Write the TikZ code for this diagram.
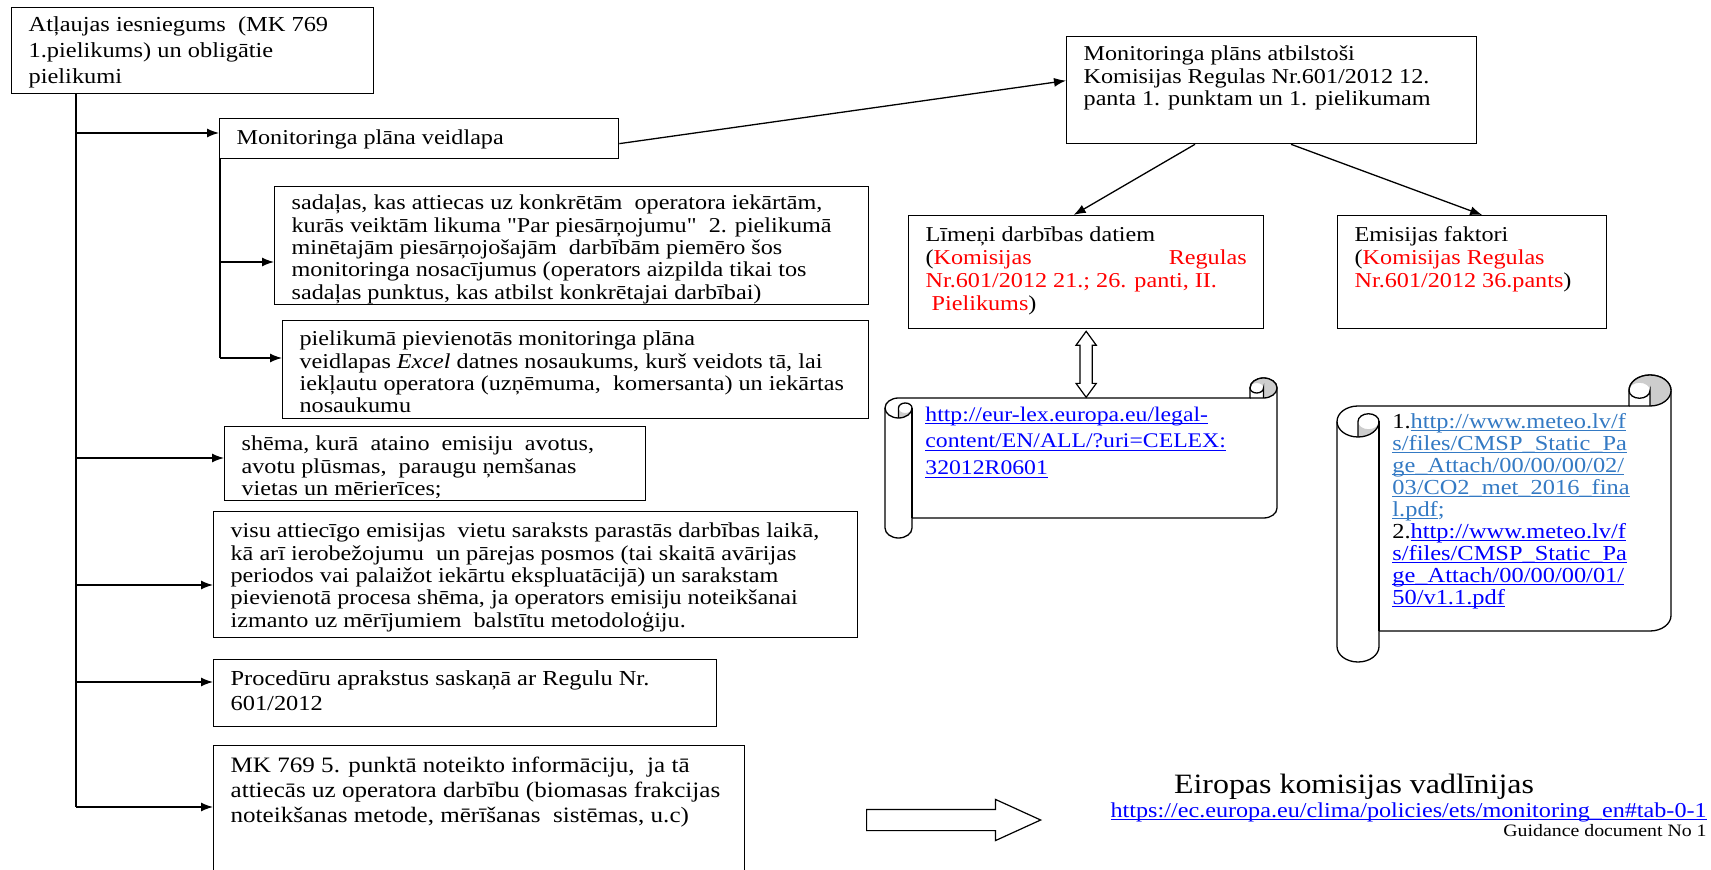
\documentclass[tikz,border=0pt]{standalone}
\usepackage{fontspec}
\setmainfont{Liberation Serif}[FakeStretch=1.14, Ligatures=TeXOff]
\usepackage{tikz}
\usetikzlibrary{arrows.meta,shapes.arrows}
\definecolor{linkblue}{RGB}{0,0,255}
\definecolor{linkpale}{RGB}{52,122,196}
\definecolor{rollgray}{RGB}{205,205,205}
\newcommand{\tline}[1]{\hbox to\linewidth{\strut#1\hfil}}
\newcommand{\jline}[1]{\hbox to\linewidth{\strut#1}}
\newcommand{\lnk}[1]{\setbox0\hbox{#1}\rlap{\rule[-1.45pt]{\wd0}{0.55pt}}\box0}
\newcommand{\boxtext}[3]{\vtop to #2{\hsize=#1\linewidth=#1\relax#3\vss}}
\newcommand{\hscroll}[6]{%
    \pgfmathsetmacro\scA{#5/2}\pgfmathsetmacro\scB{#6/2}%
    \pgfmathsetmacro\scC{#5/4}\pgfmathsetmacro\scD{#6/4}%
    \pgfmathsetmacro\scXa{#1+#5/2}\pgfmathsetmacro\scXb{#1+#5}%
    \pgfmathsetmacro\scXc{#3-#5}\pgfmathsetmacro\scXd{#3-#5/2}%
    \pgfmathsetmacro\scYa{#2+#6/2}\pgfmathsetmacro\scYb{#2+#6}%
    \pgfmathsetmacro\scYc{#2+1.5*#6}\pgfmathsetmacro\scYd{#2+2*#6}%
    \pgfmathsetmacro\scYe{#4-1.5*#6}\pgfmathsetmacro\scYf{#4-#6}%
    \pgfmathsetmacro\scYg{#4-#6/2}%
    \filldraw[scroll-line, fill=white] (#1,\scYc) arc[start angle=180, delta angle=90, x radius=\scA, y radius=\scB]
        -- (\scXc,\scYb) -- (\scXc,\scYa) arc[start angle=180, delta angle=180, x radius=\scA, y radius=\scB]
        -- (#3,\scYe) arc[start angle=0, delta angle=90, x radius=\scA, y radius=\scB]
        -- (\scXb,\scYf) -- (\scXb,\scYg) arc[start angle=0, delta angle=180, x radius=\scA, y radius=\scB]
        -- cycle;
    \fill[rollgray] (\scXa,\scYd) arc[start angle=90, delta angle=-90, x radius=\scA, y radius=\scB]
        arc[start angle=0, delta angle=180, x radius=\scC, y radius=\scD] -- cycle;
    \fill[rollgray] (\scXd,\scYb) arc[start angle=90, delta angle=-270, x radius=\scA, y radius=\scB]
        arc[start angle=180, delta angle=180, x radius=\scC, y radius=\scD] -- cycle;
    \draw[scroll-line] (\scXc,\scYa) arc[start angle=180, delta angle=180, x radius=\scA, y radius=\scB];
    \draw[scroll-line] (\scXc,\scYb) -- (\scXd,\scYb) arc[start angle=90, delta angle=-90, x radius=\scA, y radius=\scB];
    \draw[scroll-line] (\scXd,\scYb) -- (\scXd,\scYa) arc[start angle=0, delta angle=180, x radius=\scC, y radius=\scD];
    \draw[scroll-line] (\scXa,\scYd) -- (\scXa,\scYc) arc[start angle=180, delta angle=180, x radius=\scC, y radius=\scD]
        arc[start angle=0, delta angle=180, x radius=\scA, y radius=\scB];
    \draw[scroll-line] (\scXb,\scYc) -- (\scXb,\scYf);
}
\tikzset{
    plain-box/.style = {draw, line width=0.65pt, rectangle, anchor=north west, inner xsep=8.5pt, inner ysep=4.2pt, font=\fontsize{10.6}{11.2}\selectfont},
    flow-line/.style = {line width=0.65pt},
    flow-arrow/.style = {flow-line, -{Latex[length=6pt,width=4.5pt]}},
    scroll-line/.style = {line width=0.65pt},
    free-text/.style = {inner sep=0pt, anchor=north west},
}

\begin{document}
\begin{tikzpicture}[x=0.5pt, y=-0.5pt]
\useasboundingbox (0,0) rectangle (1711,870);

\node[plain-box, inner ysep=2.9pt, font=\fontsize{10.7}{13}\selectfont] (permit) at (11,7) {\boxtext{164pt}{37.2pt}{
    \tline{Atļaujas iesniegums\ \ (MK 769}
    \tline{1.pielikums) un obligātie}
    \tline{pielikumi}}};
\node[plain-box, inner ysep=5.2pt] (form) at (219,118) {\boxtext{182.5pt}{9.6pt}{
    \tline{Monitoringa plāna veidlapa}}};
\node[plain-box, inner ysep=3.7pt] (sections) at (274,186) {\boxtext{280pt}{51.6pt}{
    \tline{sadaļas, kas attiecas uz konkrētām\ \ operatora\ iekārtām,}
    \tline{kurās veiktām likuma "Par piesārņojumu"\ \ 2. pielikumā}
    \tline{minētajām piesārņojošajām\ \ darbībām piemēro šos}
    \tline{monitoringa nosacījumus (operators aizpilda tikai tos}
    \tline{sadaļas punktus, kas atbilst konkrētajai darbībai)}}};
\node[plain-box, inner ysep=4.7pt] (excelname) at (282,320) {\boxtext{276pt}{39.6pt}{
    \tline{pielikumā pievienotās monitoringa plāna}
    \tline{veidlapas \textit{Excel} datnes nosaukums, kurš veidots tā, lai}
    \tline{iekļautu operatora (uzņēmuma,\ \ komersanta) un iekārtas}
    \tline{nosaukumu}}};
\node[plain-box] (scheme) at (224,426) {\boxtext{193.5pt}{28.6pt}{
    \tline{shēma, kurā\ \ ataino\ \ emisiju\ \ avotus,}
    \tline{avotu plūsmas,\ \ paraugu ņemšanas}
    \tline{vietas un mērierīces;}}};
\node[plain-box, inner ysep=5.2pt] (sources) at (213,511) {\boxtext{305pt}{52.6pt}{
    \tline{visu attiecīgo emisijas\ \ vietu saraksts parastās darbības laikā,}
    \tline{kā arī ierobežojumu\ \ un pārejas posmos (tai skaitā avārijas}
    \tline{periodos vai palaižot iekārtu ekspluatācijā) un sarakstam}
    \tline{pievienotā procesa shēma, ja operators emisiju noteikšanai}
    \tline{izmanto uz mērījumiem\ \ balstītu metodoloģiju.}}};
\node[plain-box, inner ysep=4.25pt, font=\fontsize{10.7}{12.5}\selectfont] (procedures) at (213,659) {\boxtext{234.5pt}{25pt}{
    \tline{Procedūru aprakstus saskaņā ar Regulu Nr.}
    \tline{601/2012}}};
\node[plain-box, inner ysep=4.75pt, font=\fontsize{11}{12.5}\selectfont] (mkinfo) at (213,745) {\boxtext{248.5pt}{58pt}{
    \tline{MK 769 5. punktā noteikto informāciju,\ \ ja tā}
    \tline{attiecās uz operatora darbību (biomasas frakcijas}
    \tline{noteikšanas metode, mērīšanas\ \ sistēmas, u.c)}}};

\node[plain-box] (plan) at (1066,36) {\boxtext{188pt}{45.1pt}{
    \tline{Monitoringa plāns atbilstoši}
    \tline{Komisijas Regulas Nr.601/2012 12.}
    \tline{panta 1. punktam un 1. pielikumam}}};
\node[plain-box, inner ysep=4.95pt, font=\fontsize{10.6}{11.5}\selectfont] (tiers) at (908,215) {\boxtext{160.5pt}{46.6pt}{
    \tline{Līmeņi darbības datiem}
    \jline{({\color{red}Komisijas} {\color{red}Regulas}}
    \tline{\color{red}Nr.601/2012 21.; 26. panti, II.}
    \tline{\ {\color{red}Pielikums})}}};
\node[plain-box, inner ysep=4.95pt, font=\fontsize{10.6}{11.5}\selectfont] (factors) at (1337,215) {\boxtext{117.5pt}{46.6pt}{
    \tline{Emisijas faktori}
    \tline{({\color{red}Komisijas Regulas}}
    \tline{{\color{red}Nr.601/2012 36.pants})}}};

\coordinate (b1) at (76,133);
\coordinate (b2) at (76,458);
\coordinate (b3) at (76,585);
\coordinate (b4) at (76,682);
\coordinate (b5) at (76,807);
\draw[flow-line] (permit.south -| b1) -- (b5);
\draw[flow-arrow] (b1) -- (b1 -| form.west);
\draw[flow-arrow] (b2) -- (b2 -| scheme.west);
\draw[flow-arrow] (b3) -- (b3 -| sources.west);
\draw[flow-arrow] (b4) -- (b4 -| procedures.west);
\draw[flow-arrow] (b5) -- (b5 -| mkinfo.west);

\coordinate (s1) at (220,262);
\coordinate (s2) at (220,358);
\draw[flow-line] (form.south west -| s1) -- (s2);
\draw[flow-arrow] (s1) -- (s1 -| sections.west);
\draw[flow-arrow] (s2) -- (s2 -| excelname.west);

\draw[flow-arrow] ([yshift=-2.5pt]form.east) -- ([yshift=4.75pt]plan.west);
\draw[flow-arrow] ([xshift=64.5pt]plan.south west) -- ([xshift=-6.25pt]tiers.north);
\draw[flow-arrow] ([xshift=112.5pt]plan.south west) -- ([xshift=5pt]factors.north);

\hscroll{885}{378}{1277}{538}{27}{20}
\hscroll{1337}{375}{1671}{662}{42}{31}

\node[double arrow, draw, line width=0.6pt, fill=white, rotate=90, minimum height=33pt, minimum width=9.5pt, inner sep=2.75pt, double arrow head extend=2pt, double arrow tip angle=72] (tierslink) at ([yshift=-17.5pt]tiers.south) {};

\node[free-text, font=\fontsize{10.4}{13.4}\selectfont, text=linkblue] (lexurl) at (925,402) {\vtop{\linewidth=190pt
    \tline{\lnk{http://eur-lex.europa.eu/legal-}}
    \tline{\lnk{content/EN/ALL/?uri=CELEX:}}
    \tline{\lnk{32012R0601}}}};
\node[free-text, font=\fontsize{10.7}{11}\selectfont] (meteourl) at (1392,412.6) {\vtop{\linewidth=130pt
    \tline{1.{\color{linkpale}\lnk{http://www.meteo.lv/f}}}
    \tline{\color{linkpale}\lnk{s/files/CMSP\_Static\_Pa}}
    \tline{\color{linkpale}\lnk{ge\_Attach/00/00/00/02/}}
    \tline{\color{linkpale}\lnk{03/CO2\_met\_2016\_fina}}
    \tline{\color{linkpale}\lnk{l.pdf};}
    \tline{2.{\color{linkblue}\lnk{http://www.meteo.lv/f}}}
    \tline{\color{linkblue}\lnk{s/files/CMSP\_Static\_Pa}}
    \tline{\color{linkblue}\lnk{ge\_Attach/00/00/00/01/}}
    \tline{\color{linkblue}\lnk{50/v1.1.pdf}}}};

\node[single arrow, draw, line width=0.6pt, fill=white, minimum height=87pt, minimum width=20pt, inner sep=5pt, single arrow head extend=5pt, single arrow tip angle=49] (guidearrow) at (942,820) {};
\node[anchor=base, inner sep=0pt, font=\fontsize{14}{16}\selectfont] (guidetitle) at (1354,793) {Eiropas komisijas vadlīnijas};
\node[anchor=base east, inner sep=0pt, font=\fontsize{10.6}{12}\selectfont, text=linkblue] (guideurl) at (1707,817) {\lnk{https://ec.europa.eu/clima/policies/ets/monitoring\_en\#tab-0-1}};
\node[anchor=base east, inner sep=0pt, font=\fontsize{8.7}{10}\selectfont] (guideno) at (1707,836) {Guidance document No 1};
\end{tikzpicture}
\end{document}
